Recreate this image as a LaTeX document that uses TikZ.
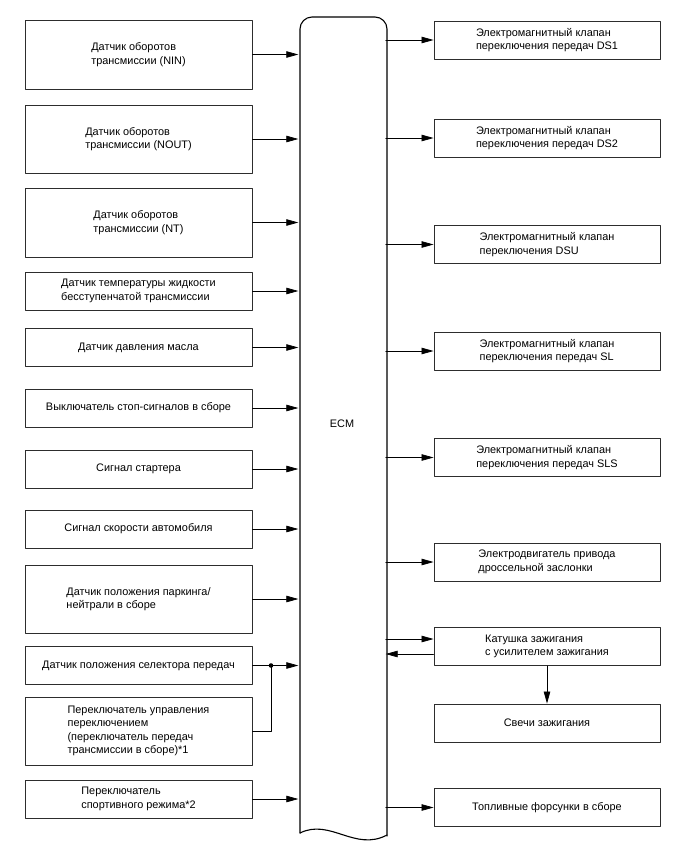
\documentclass[tikz,border=0pt]{standalone}
\usepackage{fontspec}
\setmainfont{Liberation Sans}
\usetikzlibrary{arrows.meta}

\definecolor{framegray}{RGB}{45,45,45}

\begin{document}
\begin{tikzpicture}[x=1pt,y=-1pt,line cap=round,line join=round,
    font=\fontsize{10.9}{13.5}\selectfont,
    inbox/.style={draw=framegray,line width=0.9pt,minimum width=227pt,align=left,inner sep=0pt},
    outbox/.style={draw=framegray,line width=0.9pt,minimum width=226pt,minimum height=38pt,align=left,inner sep=0pt},
    sig/.style={line width=0.7pt,-{Triangle[length=12pt,width=6.5pt]}}]
    \useasboundingbox (0,0) rectangle (688,852);

    % Блок ECM
    \node[minimum width=87pt,minimum height=818pt,inner sep=0pt] (ecm) at (342,424) {ECM};
    \draw[line width=1.1pt,rounded corners=12pt] (300,833) -- (300,17) -- (387,17) -- (387,836);
    \draw[line width=1.1pt] (387,835) .. controls (355,852) and (330,818) .. (300,833);

    % Входные сигналы
    \node[inbox,minimum height=69pt] (nin) at (138.5,54.5) {Датчик оборотов\\трансмиссии (NIN)};
    \node[inbox,minimum height=68pt] (nout) at (138.5,139) {Датчик оборотов\\трансмиссии (NOUT)};
    \node[inbox,minimum height=69pt] (nt) at (138.5,222.5) {Датчик оборотов\\трансмиссии (NT)};
    \node[inbox,minimum height=38pt] (temp) at (138.5,291) {Датчик температуры жидкости\\бесступенчатой трансмиссии};
    \node[inbox,minimum height=38pt] (oil) at (138.5,347.5) {Датчик давления масла};
    \node[inbox,minimum height=38pt] (stop) at (138.5,408) {Выключатель стоп-сигналов в сборе};
    \node[inbox,minimum height=38pt] (start) at (138.5,469) {Сигнал стартера};
    \node[inbox,minimum height=38pt] (speed) at (138.5,529) {Сигнал скорости автомобиля};
    \node[inbox,minimum height=68pt] (pnp) at (138.5,599) {Датчик положения паркинга/\\нейтрали в сборе};
    \node[inbox,minimum height=38pt] (sel) at (138.5,665.5) {Датчик положения селектора передач};
    \node[inbox,minimum height=68pt] (shift) at (138.5,731) {Переключатель управления\\переключением\\(переключатель передач\\трансмиссии в сборе)*1};
    \node[inbox,minimum height=38pt] (sport) at (138.5,799) {Переключатель\\спортивного режима*2};

    \foreach \n in {nin,nout,nt,temp,oil,stop,start,speed,pnp,sel,sport}
        \draw[sig] (\n.east) -- (\n.east -| ecm.west);

    % Ответвление от переключателя
    \coordinate (jn) at (271,665.5);
    \draw[line width=0.7pt] (shift.east) -| (jn);
    \fill (jn) circle (2.3);

    % Исполнительные устройства
    \node[outbox] (ds1) at (547,40) {Электромагнитный клапан\\переключения передач DS1};
    \node[outbox] (ds2) at (547,138) {Электромагнитный клапан\\переключения передач DS2};
    \node[outbox] (dsu) at (547,244.5) {Электромагнитный клапан\\переключения DSU};
    \node[outbox] (sl) at (547,351) {Электромагнитный клапан\\переключения передач SL};
    \node[outbox] (sls) at (547,457.5) {Электромагнитный клапан\\переключения передач SLS};
    \node[outbox] (thr) at (547,562) {Электродвигатель привода\\дроссельной заслонки};
    \node[outbox] (coil) at (547,646.5) {Катушка зажигания\\с усилителем зажигания};
    \node[outbox] (plug) at (547,723) {Свечи зажигания};
    \node[outbox] (inj) at (547,807.5) {Топливные форсунки в сборе};

    \foreach \n in {ds1,ds2,dsu,sl,sls,thr,inj}
        \draw[sig] (ecm.east |- \n.west) -- (\n.west);

    % Зажигание
    \draw[sig] (ecm.east |- 0,639) -- (coil.west |- 0,639);
    \draw[sig] (coil.west |- 0,654) -- (ecm.east |- 0,654);
    \draw[sig] (coil.south) -- (plug.north);
\end{tikzpicture}
\end{document}
